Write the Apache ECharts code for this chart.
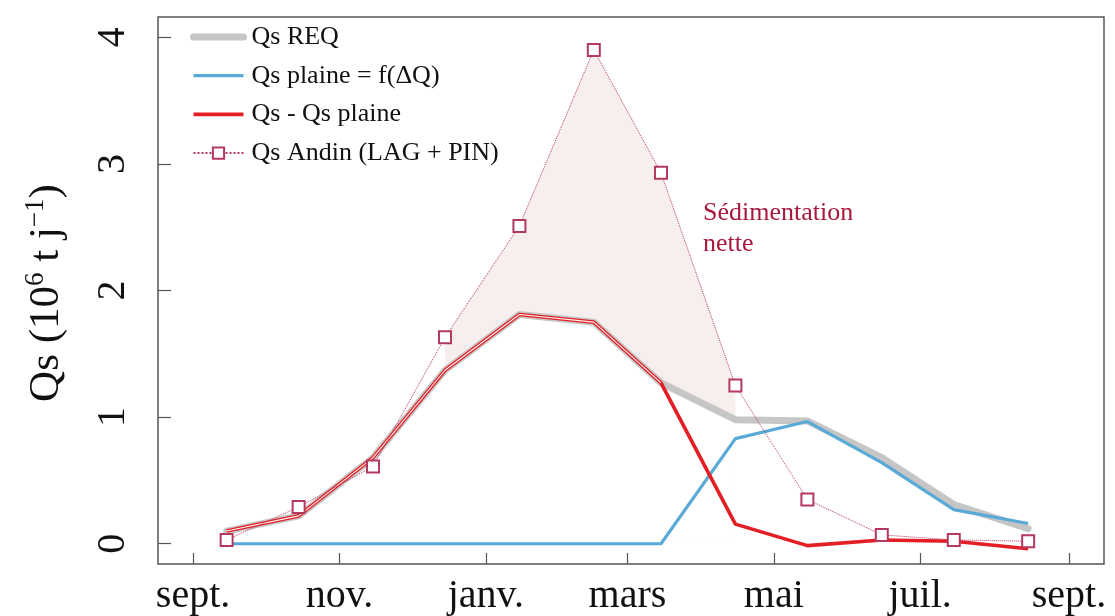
<!DOCTYPE html>
<html>
<head>
<meta charset="utf-8">
<script src="https://cdn.jsdelivr.net/npm/echarts@6/dist/echarts.min.js"></script>
<style>html,body{margin:0;padding:0;background:#fff}#c{width:1115px;height:616px}</style>
</head>
<body>
<div id="c"></div>
<script>
// ---- data ----
const sampleDates = ['2001-09-15','2001-10-15','2001-11-15','2001-12-15','2002-01-15','2002-02-15',
                     '2002-03-15','2002-04-15','2002-05-15','2002-06-15','2002-07-15','2002-08-15'];
const qsREQ    = [0.10, 0.22, 0.68, 1.37, 1.81, 1.75, 1.27, 0.98, 0.97, 0.68, 0.31, 0.12];
const qsPlaine = [0, 0, 0, 0, 0, 0, 0, 0.83, 0.965, 0.64, 0.27, 0.16];
const qsDiff   = [0.10, 0.22, 0.68, 1.37, 1.81, 1.75, 1.27, 0.155, -0.015, 0.03, 0.02, -0.04];
const qsAndin  = [0.03, 0.29, 0.61, 1.63, 2.51, 3.90, 2.93, 1.25, 0.35, 0.07, 0.03, 0.02];
const sedimentIdx = [3, 4, 5, 6, 7];           // months where Andin > REQ (shaded)
const overlapIdx  = [0, 1, 2, 3, 4, 5, 6];     // months where Qs - Qs plaine == REQ
const tickDates  = ['2001-09-01','2001-11-01','2002-01-01','2002-03-01','2002-05-01','2002-07-01','2002-09-01'];
const tickLabels = ['sept.','nov.','janv.','mars','mai','juil.','sept.'];
const yTicks = [0, 1, 2, 3, 4];
const seriesNames = ['Qs REQ', 'Qs plaine = f(\u0394Q)', 'Qs - Qs plaine', 'Qs Andin (LAG + PIN)'];
const colors = ['#c6c6c6', '#5aaad8', '#e31e24', '#b5385e'];

// ---- helpers ----
const origin = Date.parse(tickDates[0] + 'T00:00:00Z');
const dayOf = s => (Date.parse(s + 'T00:00:00Z') - origin) / 86400000;
const xs = sampleDates.map(dayOf);
const pairs = arr => xs.map((x, i) => [x, arr[i]]);
const subset = (arr, idx) => xs.map((x, i) => [x, idx.includes(i) ? arr[i] : null]);
const tickDays = tickDates.map(dayOf);
const labelOf = {};
tickDays.forEach((d, i) => labelOf[d] = tickLabels[i]);

const serif = '"Liberation Serif", "DejaVu Serif", serif';
const chart = echarts.init(document.getElementById('c'), null, {renderer: 'canvas'});
chart.setOption({
  animation: false,
  backgroundColor: '#fff',
  grid: {left: 158, right: 11, top: 17, bottom: 52, show: true, borderColor: '#555', borderWidth: 1.5, containLabel: false},
  legend: {
    orient: 'vertical', left: 190, top: 24, padding: 0, itemWidth: 50, itemHeight: 14, itemGap: 12.7,
    data: [
      {name: seriesNames[0], itemStyle: {opacity: 0}, lineStyle: {width: 7, color: colors[0]}},
      {name: seriesNames[1], itemStyle: {opacity: 0}, lineStyle: {width: 3.2, color: colors[1]}},
      {name: seriesNames[2], itemStyle: {opacity: 0}, lineStyle: {width: 3.6, color: colors[2]}},
      {name: seriesNames[3]}
    ],
    textStyle: {fontFamily: serif, fontSize: 26, color: '#111', lineHeight: 26, padding: [0, 0, 0, 3]}
  },
  xAxis: {
    type: 'value', min: -14.6, max: 379.6,
    axisLine: {show: false, onZero: false},
    splitLine: {show: false},
    axisTick: {show: true, inside: true, length: 11, lineStyle: {color: '#555', width: 1.2}, customValues: tickDays},
    axisLabel: {customValues: tickDays, formatter: v => labelOf[v] || '', fontFamily: serif, fontSize: 40, color: '#111', margin: 12}
  },
  yAxis: {
    type: 'value', min: -0.16, max: 4.16,
    axisLine: {show: false, onZero: false},
    splitLine: {show: false},
    axisTick: {show: true, inside: true, length: 13, lineStyle: {color: '#555', width: 1.2}, customValues: yTicks},
    axisLabel: {customValues: yTicks, rotate: 90, fontFamily: serif, fontSize: 40, color: '#111', margin: 25}
  },
  graphic: [
    {
      type: 'text', x: 45, y: 293, rotation: Math.PI / 2,
      style: {
        text: '{a|Qs (10}{s|6}{a| t j}{s|\u22121}{a|)}',
        textAlign: 'center', textVerticalAlign: 'middle', align: 'center', verticalAlign: 'middle',
        rich: {
          a: {fontFamily: serif, fontSize: 43, fill: '#111', lineHeight: 46, verticalAlign: 'bottom'},
          s: {fontFamily: serif, fontSize: 27, fill: '#111', lineHeight: 46, verticalAlign: 'top'}
        }
      }
    },
    {
      type: 'text', x: 703, y: 229,
      style: {
        text: 'Sédimentation\nnette', fontFamily: serif, fontSize: 26, lineHeight: 31,
        fill: '#a8183c', textAlign: 'left', textVerticalAlign: 'middle', align: 'left', verticalAlign: 'middle'
      }
    }
  ],
  series: [
    {
      name: 'sedTop', type: 'line', data: subset(qsAndin, sedimentIdx),
      symbol: 'none', lineStyle: {width: 0, opacity: 0}, areaStyle: {color: '#f7eeee', opacity: 1},
      silent: true, z: 1
    },
    {
      name: 'sedBottom', type: 'line', data: subset(qsREQ, sedimentIdx),
      symbol: 'none', lineStyle: {width: 0, opacity: 0}, areaStyle: {color: '#ffffff', opacity: 1},
      silent: true, z: 1.5
    },
    {
      name: seriesNames[0], type: 'line', data: pairs(qsREQ), symbol: 'none',
      lineStyle: {color: colors[0], width: 7, cap: 'round', join: 'round'}, itemStyle: {color: colors[0]}, z: 2
    },
    {
      name: seriesNames[1], type: 'line', data: pairs(qsPlaine), symbol: 'none',
      lineStyle: {color: colors[1], width: 3.2}, itemStyle: {color: colors[1]}, z: 3
    },
    {
      name: seriesNames[2], type: 'line', data: pairs(qsDiff), symbol: 'none',
      lineStyle: {color: colors[2], width: 3.6}, itemStyle: {color: colors[2]}, z: 4
    },
    {
      name: 'overlap', type: 'line', data: subset(qsDiff, overlapIdx), symbol: 'none',
      lineStyle: {color: '#fff4f4', width: 1.1}, silent: true, z: 5
    },
    {
      name: seriesNames[3], type: 'line', data: pairs(qsAndin),
      symbol: 'emptyRect', symbolSize: 12,
      lineStyle: {color: colors[3], width: 1, type: 'dotted'},
      itemStyle: {color: colors[3], borderColor: colors[3], borderWidth: 1.2}, z: 6
    }
  ]
});
</script>
</body>
</html>
